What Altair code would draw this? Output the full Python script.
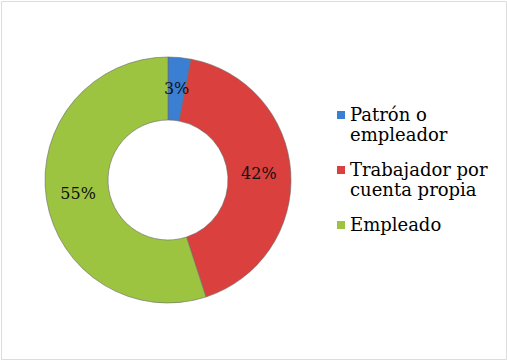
import altair as alt
import pandas as pd

categories = ["Patrón o|empleador", "Trabajador por|cuenta propia", "Empleado"]
values = [3, 42, 55]
labels = ["3%", "42%", "55%"]
colors = ["#3b7fd3", "#d9403e", "#9cc441"]

df = pd.DataFrame({"cat": categories, "val": values, "lab": labels, "ord": [0, 1, 2]})

FONT = "DejaVu Serif"

base = alt.Chart(df).encode(
    theta=alt.Theta("val:Q", stack=True),
    order=alt.Order("ord:Q"),
    x=alt.value(167),
    y=alt.value(179),
)

# square symbol shifted down so it sits beside the first label line
SQUARE = "M-1,1 L1,1 L1,3 L-1,3 Z"

arcs = base.mark_arc(outerRadius=123, innerRadius=60, stroke="#6a6a6a", strokeWidth=0.6).encode(
    color=alt.Color(
        "cat:N",
        scale=alt.Scale(domain=categories, range=colors),
        sort=categories,
        legend=alt.Legend(
            title=None,
            orient="none",
            legendX=331,
            legendY=97,
            labelFont=FONT,
            labelFontSize=18,
            labelColor="#000000",
            labelExpr="split(datum.label, '|')",
            labelLimit=300,
            symbolType=SQUARE,
            symbolSize=64,
            symbolStrokeWidth=0,
            rowPadding=8,
            labelOffset=0,
            labelBaseline="top",
            symbolOffset=0,
        ),
    )
)

text = base.mark_text(radius=91, font=FONT, fontSize=16, color="#111111").encode(
    text="lab:N"
)

chart = (
    alt.layer(arcs, text)
    .properties(width=505, height=358, padding=1, autosize="none")
    .configure_view(stroke="#808080", strokeWidth=2)
    .configure(background="#ffffff")
)

chart.save("out.html", embed_options={"renderer": "svg", "actions": False})
